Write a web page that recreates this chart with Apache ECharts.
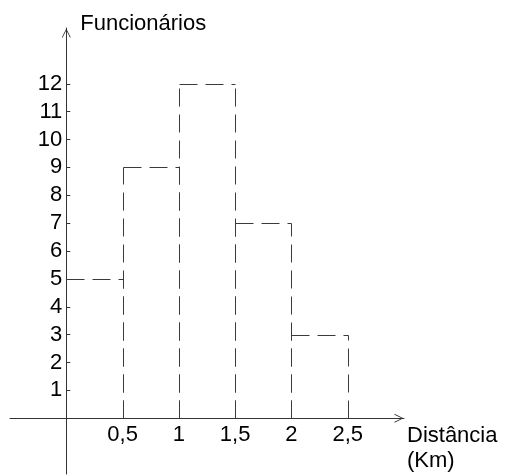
<!DOCTYPE html>
<html>
<head>
    <meta charset="utf-8">
    <script src="https://cdn.jsdelivr.net/npm/echarts@6/dist/echarts.min.js"></script>
    <style>
        html, body { margin: 0; padding: 0; background: #fff; }
        #main { width: 505px; height: 475px; }
    </style>
</head>
<body>
    <div id="main"></div>
    <script>
        // histogram: class edges (km) and number of employees per class
        var binEdges = [0, 0.5, 1, 1.5, 2, 2.5];
        var counts = [5, 9, 12, 7, 3];
        var xTicks = [0.5, 1, 1.5, 2, 2.5];
        var yTicks = [1, 2, 3, 4, 5, 6, 7, 8, 9, 10, 11, 12];

        var binData = counts.map(function (c, i) {
            return [binEdges[i], binEdges[i + 1], c];
        });

        var font = 'Liberation Sans, Arial, sans-serif';
        var axisColor = '#333';
        var arrow = 'path://M0,10 L5,0 L10,10 L9,10 L5,2 L1,10 Z';

        // axes run a bit past zero on both sides, like the drawing
        var xMin = -0.5, xMax = 3, yMin = -2, yMax = 14;
        var gridLeft = 10, gridTop = 28, gridW = 394, gridH = 446;
        // move each axis from the grid edge onto the zero of the other one
        var xOffset = -gridH * (0 - yMin) / (yMax - yMin);
        var yOffset = -gridW * (0 - xMin) / (xMax - xMin);

        function snap(p) {
            return [Math.round(p[0]) + 0.5, Math.round(p[1]) + 0.5];
        }

        var chart = echarts.init(document.getElementById('main'));

        var option = {
            animation: false,
            grid: {
                left: gridLeft,
                top: gridTop,
                width: gridW,
                height: gridH,
                outerBoundsMode: 'none'
            },
            xAxis: {
                type: 'value',
                min: xMin,
                max: xMax,
                offset: xOffset,
                name: 'Distância\n(Km)',
                nameLocation: 'end',
                nameGap: 3,
                nameTextStyle: {
                    fontFamily: font,
                    fontSize: 22,
                    color: '#000',
                    align: 'left',
                    verticalAlign: 'top',
                    lineHeight: 25,
                    padding: [5, 0, 0, 0]
                },
                axisLine: {
                    onZero: false,
                    symbol: ['none', arrow],
                    symbolSize: [9, 10],
                    symbolOffset: [0, -5],
                    lineStyle: { color: axisColor, width: 1 }
                },
                axisTick: { show: false },
                axisLabel: {
                    customValues: xTicks,
                    margin: 6,
                    fontFamily: font,
                    fontSize: 22,
                    color: '#000',
                    formatter: function (v) {
                        return String(v).replace('.', ',');
                    }
                },
                splitLine: { show: false }
            },
            yAxis: {
                type: 'value',
                min: yMin,
                max: yMax,
                offset: yOffset,
                name: 'Funcionários',
                nameLocation: 'end',
                nameGap: 4,
                nameTextStyle: {
                    fontFamily: font,
                    fontSize: 22,
                    color: '#000',
                    align: 'left',
                    verticalAlign: 'middle',
                    padding: [0, 0, 0, 14]
                },
                axisLine: {
                    show: true,
                    onZero: false,
                    symbol: ['none', arrow],
                    symbolSize: [9, 10],
                    symbolOffset: [0, -5],
                    lineStyle: { color: axisColor, width: 1 }
                },
                axisTick: {
                    show: true,
                    inside: true,
                    length: 4,
                    customValues: yTicks,
                    lineStyle: { color: axisColor }
                },
                axisLabel: {
                    customValues: yTicks,
                    margin: 4,
                    fontFamily: font,
                    fontSize: 22,
                    color: '#000'
                },
                splitLine: { show: false }
            },
            series: [{
                type: 'custom',
                data: binData,
                encode: { x: [0, 1], y: 2 },
                renderItem: function (params, api) {
                    var x0 = api.value(0);
                    var x1 = api.value(1);
                    var h = api.value(2);
                    var b0 = snap(api.coord([x0, 0]));
                    var t0 = snap(api.coord([x0, h]));
                    var b1 = snap(api.coord([x1, 0]));
                    var t1 = snap(api.coord([x1, h]));
                    var style = {
                        stroke: '#3a3a3a',
                        lineWidth: 1,
                        lineDash: [18, 8],
                        fill: null
                    };
                    var children = [
                        { type: 'polyline', shape: { points: [b1, t1] }, style: style },
                        { type: 'polyline', shape: { points: [t0, t1] }, style: style }
                    ];
                    // the first class starts on the y axis itself
                    if (x0 !== 0) {
                        children.push({ type: 'polyline', shape: { points: [b0, t0] }, style: style });
                    }
                    return { type: 'group', children: children };
                }
            }]
        };

        chart.setOption(option);
    </script>
</body>
</html>
